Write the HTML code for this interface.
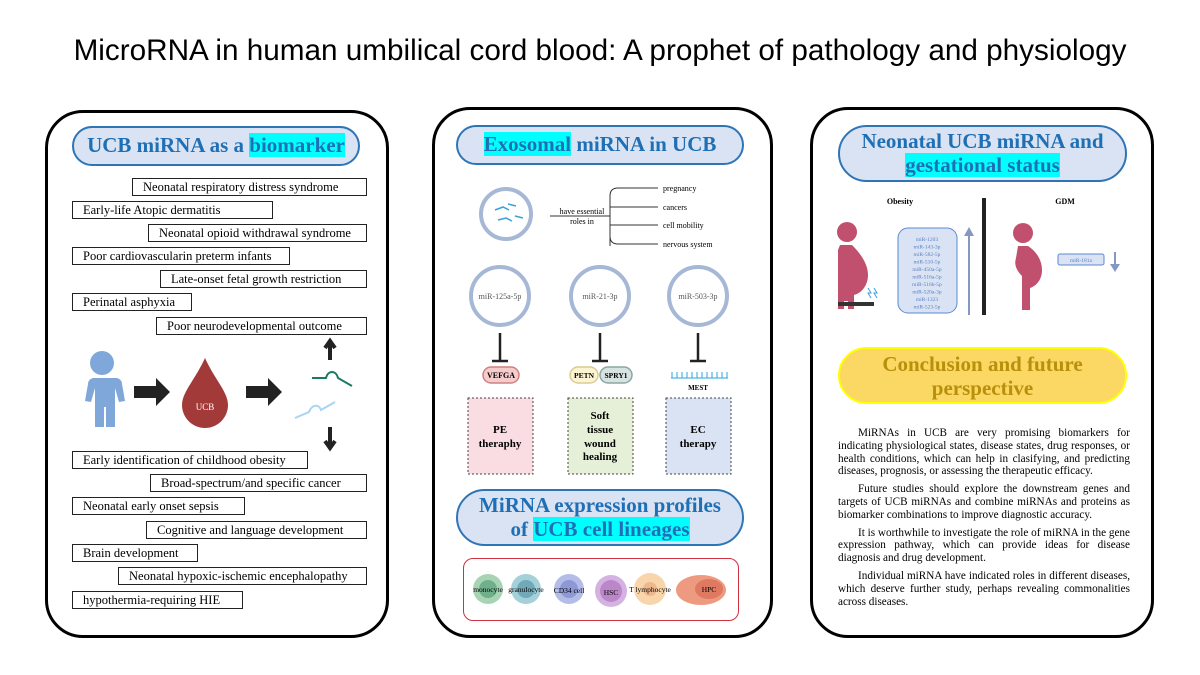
<!DOCTYPE html>
<html><head><meta charset="utf-8"><style>
*{margin:0;padding:0;box-sizing:border-box}
body{width:1200px;height:675px;background:#fff;position:relative;overflow:hidden;font-family:"Liberation Serif",serif}
.a{position:absolute}
.panel{position:absolute;border:3px solid #000;border-radius:38px}
.pill{position:absolute;background:#dae3f3;border:2px solid #2e75b6;border-radius:30px}
.pt{position:absolute;text-align:center;color:#1f6fb5;font-size:21px;font-weight:bold;line-height:25px;font-family:"Liberation Serif",serif;white-space:nowrap}
.hl{background:#00ffff}
.bx{position:absolute;border:1px solid #222;height:18px;font-size:12.5px;line-height:16px;padding-left:10px;background:#fff;white-space:nowrap}
</style></head><body>
<div class="a" style="left:0;top:34px;width:1200px;text-align:center;font-family:'Liberation Sans',sans-serif;font-size:29.7px">MicroRNA in human umbilical cord blood: A prophet of pathology and physiology</div>

<div class="panel" style="left:45px;top:110px;width:344px;height:528px"></div>
<div class="panel" style="left:432px;top:107px;width:341px;height:531px"></div>
<div class="panel" style="left:810px;top:107px;width:344px;height:531px"></div>

<!-- Left -->
<div class="pill" style="left:72px;top:126px;width:288px;height:40px"></div>
<div class="pt" style="left:72px;top:133px;width:288px">UCB miRNA as a <span class="hl">biomarker</span></div>
<div class="bx" style="left:132px;top:178px;width:235px">Neonatal respiratory distress syndrome</div>
<div class="bx" style="left:72px;top:201px;width:201px">Early-life Atopic dermatitis</div>
<div class="bx" style="left:148px;top:224px;width:219px">Neonatal opioid withdrawal syndrome</div>
<div class="bx" style="left:72px;top:247px;width:218px">Poor cardiovascularin preterm infants</div>
<div class="bx" style="left:160px;top:270px;width:207px">Late-onset fetal growth restriction</div>
<div class="bx" style="left:72px;top:293px;width:120px">Perinatal asphyxia</div>
<div class="bx" style="left:156px;top:317px;width:211px">Poor neurodevelopmental outcome</div>
<div class="bx" style="left:72px;top:451px;width:236px">Early identification of childhood obesity</div>
<div class="bx" style="left:150px;top:474px;width:217px">Broad-spectrum/and specific cancer</div>
<div class="bx" style="left:72px;top:497px;width:173px">Neonatal early onset sepsis</div>
<div class="bx" style="left:146px;top:521px;width:221px">Cognitive and language development</div>
<div class="bx" style="left:72px;top:544px;width:126px">Brain development</div>
<div class="bx" style="left:118px;top:567px;width:249px">Neonatal hypoxic-ischemic encephalopathy</div>
<div class="bx" style="left:72px;top:591px;width:171px">hypothermia-requiring HIE</div>
<svg class="a" style="left:60px;top:330px" width="320" height="130">
<g fill="#7fa7d9"><circle cx="42" cy="33" r="12"/><path d="M28 48h28a6 6 0 0 1 6 6l3 17-6 1-4-14v39h-9V77h-2v20h-9V58l-4 14-6-1 3-17a6 6 0 0 1 6-6z"/></g>
<path d="M74 56h22v-8l14 14-14 14v-8H74z" fill="#222"/>
<path d="M186 56h22v-8l14 14-14 14v-8h-22z" fill="#222"/>
<path d="M145 28C135 50 122 62 122 75a23 23 0 0 0 46 0c0-13-13-25-23-47z" fill="#a33a3a"/>
<text x="145" y="80" fill="#fff" font-size="9" text-anchor="middle" font-family="Liberation Serif">UCB</text>
<path d="M270 30v-18M265 18l5-7 5 7" stroke="#222" stroke-width="4" fill="none"/>
<path d="M270 97v20M265 111l5 7 5-7" stroke="#222" stroke-width="4" fill="none"/>
<path d="M252 48h14c2-8 10-8 12 0l14 8" stroke="#1a7a62" stroke-width="2" fill="none"/>
<path d="M235 88l14-6c3-8 10-8 12-2l14-8" stroke="#a7d5f2" stroke-width="2" fill="none"/>
</svg>

<!-- Middle -->
<div class="pill" style="left:456px;top:125px;width:288px;height:40px"></div>
<div class="pt" style="left:456px;top:132px;width:288px"><span class="hl">Exosomal</span> miRNA in UCB</div>
<svg class="a" style="left:440px;top:170px" width="340" height="320" font-family="Liberation Serif">
<circle cx="66" cy="44" r="25" fill="#fff" stroke="#a6b8d6" stroke-width="4"/>
<path d="M55 40l8-3 6 3M68 34l8 2M58 50l8-2 6 3M75 46l8 2" stroke="#3aa0d8" stroke-width="1.5" fill="none"/>
<text x="142" y="44" font-size="8" text-anchor="middle">have essential</text>
<text x="142" y="54" font-size="8" text-anchor="middle">roles in</text>
<path d="M110 46h60M170 26v50M170 26q0-8 8-8h40M170 37h48M170 55h48M170 66q0 8 8 8h40" stroke="#333" stroke-width="1" fill="none"/>
<g font-size="8"><text x="223" y="21">pregnancy</text><text x="223" y="40">cancers</text><text x="223" y="58">cell mobility</text><text x="223" y="77">nervous system</text></g>
<g fill="#fff" stroke="#a6b8d6" stroke-width="4"><circle cx="60" cy="126" r="29"/><circle cx="160" cy="126" r="29"/><circle cx="258" cy="126" r="29"/></g>
<g font-size="8" fill="#555" text-anchor="middle"><text x="60" y="129">miR-125a-5p</text><text x="160" y="129">miR-21-3p</text><text x="258" y="129">miR-503-3p</text></g>
<g stroke="#222" stroke-width="2.5"><path d="M60 163v28M52 191h16M160 163v28M152 191h16M258 163v28M250 191h16"/></g>
<rect x="43" y="197" width="36" height="16" rx="8" fill="#f4cccc" stroke="#d08080" stroke-width="1.5"/>
<text x="61" y="208" font-size="8" text-anchor="middle" font-weight="bold">VEFGA</text>
<rect x="130" y="197" width="28" height="16" rx="8" fill="#fbf3d2" stroke="#d9cc94" stroke-width="1.5"/>
<rect x="160" y="197" width="32" height="16" rx="8" fill="#d7e3e0" stroke="#8ba7a2" stroke-width="1.5"/>
<text x="144" y="208" font-size="7.5" text-anchor="middle" font-weight="bold">PETN</text>
<text x="176" y="208" font-size="7.5" text-anchor="middle" font-weight="bold">SPRY1</text>
<path d="M231 208h57M232 202v6M237 202v6M242 202v6M247 202v6M252 202v6M257 202v6M262 202v6M267 202v6M272 202v6M277 202v6M282 202v6M287 202v6" stroke="#2aa5e0" stroke-width="1"/>
<text x="258" y="220" font-size="7" text-anchor="middle" font-weight="bold">MEST</text>
<rect x="28" y="228" width="65" height="76" fill="#f9dde3" stroke="#444" stroke-dasharray="2 2"/>
<rect x="128" y="228" width="65" height="76" fill="#e6f0d8" stroke="#444" stroke-dasharray="2 2"/>
<rect x="226" y="228" width="65" height="76" fill="#dae3f3" stroke="#444" stroke-dasharray="2 2"/>
<g font-size="11" font-weight="bold" text-anchor="middle"><text x="60" y="263">PE</text><text x="60" y="277">theraphy</text>
<text x="160" y="249">Soft</text><text x="160" y="263">tissue</text><text x="160" y="277">wound</text><text x="160" y="290">healing</text>
<text x="258" y="263">EC</text><text x="258" y="277">therapy</text></g>
</svg>
<div class="pill" style="left:456px;top:489px;width:288px;height:57px"></div>
<div class="pt" style="left:456px;top:493px;width:288px;line-height:24px">MiRNA expression profiles<br>of <span class="hl">UCB cell lineages</span></div>
<div class="a" style="left:463px;top:558px;width:276px;height:63px;border:1.5px solid #d0303f;border-radius:10px"></div>
<svg class="a" style="left:463px;top:558px" width="280" height="63" font-family="Liberation Serif" font-size="7.5" text-anchor="middle">
<circle cx="25" cy="31" r="15" fill="#a9d3b5"/><circle cx="25" cy="31" r="9" fill="#6fb08a"/>
<circle cx="63" cy="31" r="15" fill="#a4d0da"/><circle cx="63" cy="31" r="9" fill="#72a9b8"/>
<circle cx="106" cy="31" r="15" fill="#b3bde8"/><circle cx="106" cy="31" r="9" fill="#8f98d6"/>
<circle cx="148" cy="33" r="16" fill="#d4b3e2"/><circle cx="148" cy="33" r="11" fill="#bb87c9"/>
<circle cx="187" cy="31" r="16" fill="#f8d5ab"/><circle cx="187" cy="31" r="7" fill="#efb78d"/>
<ellipse cx="238" cy="32" rx="25" ry="15" fill="#ee9a80"/><ellipse cx="246" cy="31" rx="14" ry="10" fill="#e07962"/>
<text x="25" y="34">monocyte</text><text x="63" y="34">granulocyte</text><text x="106" y="35">CD34 cell</text><text x="148" y="37">HSC</text><text x="187" y="34">T lymphocyte</text><text x="246" y="34">HPC</text>
</svg>

<!-- Right -->
<div class="pill" style="left:838px;top:125px;width:289px;height:57px"></div>
<div class="pt" style="left:838px;top:129px;width:289px;line-height:24px">Neonatal UCB miRNA and<br><span class="hl">gestational status</span></div>
<svg class="a" style="left:820px;top:190px" width="340" height="125" font-family="Liberation Serif">
<text x="80" y="14" font-size="8" text-anchor="middle" font-weight="bold">Obesity</text>
<text x="245" y="14" font-size="8" text-anchor="middle" font-weight="bold">GDM</text>
<g fill="#c0506e"><circle cx="27" cy="42" r="10"/><path d="M20 55h12c10 10 16 20 16 30s-6 18-14 20v14h-6v-8h-4v8h-6V60z"/><circle cx="203" cy="43" r="10"/><path d="M198 56h10c8 5 14 14 14 24s-6 16-12 18v22h-8V86c-6-6-8-12-6-18z"/></g>
<rect x="18" y="112" width="36" height="4" fill="#333"/>
<path d="M48 98l3 5-3 0 3 5M54 98l3 5-3 0 3 5" stroke="#3aa0d8" fill="none"/>
<rect x="78" y="38" width="59" height="85" rx="10" fill="#dae3f3" stroke="#5b8ad6"/>
<g font-size="5.5" fill="#5b7fc4" text-anchor="middle"><text x="107" y="51">miR-1203</text><text x="107" y="58.5">miR-143-3p</text><text x="107" y="66">miR-582-5p</text><text x="107" y="73.5">miR-510-5p</text><text x="107" y="81">miR-450a-5p</text><text x="107" y="88.5">miR-516a-5p</text><text x="107" y="96">miR-516b-5p</text><text x="107" y="103.5">miR-520a-3p</text><text x="107" y="111">miR-1323</text><text x="107" y="118.5">miR-523-5p</text></g>
<path d="M149 125V42" stroke="#8597c4" stroke-width="2"/><path d="M144 46l5-9 5 9z" fill="#8597c4"/>
<rect x="162" y="8" width="4" height="117" fill="#222"/>
<rect x="238" y="64" width="46" height="11" rx="2" fill="#dae3f3" stroke="#5b8ad6"/>
<text x="261" y="72" font-size="5.5" fill="#5b7fc4" text-anchor="middle">miR-181a</text>
<path d="M295 62v14" stroke="#8597c4" stroke-width="2"/><path d="M290 74l5 8 5-8z" fill="#8597c4"/>
</svg>
<div class="a" style="left:838px;top:347px;width:289px;height:57px;background:#fbd764;border:2px solid #ffff00;border-radius:30px;text-align:center;color:#b8900a;font-size:21px;font-weight:bold;line-height:24px;padding-top:3px">Conclusion and future<br>perspective</div>
<div class="a" style="left:838px;top:427px;width:292px;font-size:11.2px;line-height:12.8px;text-align:justify;font-family:'Liberation Serif',serif">
<p style="text-indent:20px;margin-bottom:5px">MiRNAs in UCB are very promising biomarkers for indicating physiological states, disease states, drug responses, or health conditions, which can help in clasifying, and predicting diseases, prognosis, or assessing the therapeutic efficacy.</p>
<p style="text-indent:20px;margin-bottom:5px">Future studies should explore the downstream genes and targets of UCB miRNAs and combine miRNAs and proteins as biomarker combinations to improve diagnostic accuracy.</p>
<p style="text-indent:20px;margin-bottom:5px">It is worthwhile to investigate the role of miRNA in the gene expression pathway, which can provide ideas for disease diagnosis and drug development.</p>
<p style="text-indent:20px">Individual miRNA have indicated roles in different diseases, which deserve further study, perhaps revealing commonalities across diseases.</p>
</div>
</body></html>
